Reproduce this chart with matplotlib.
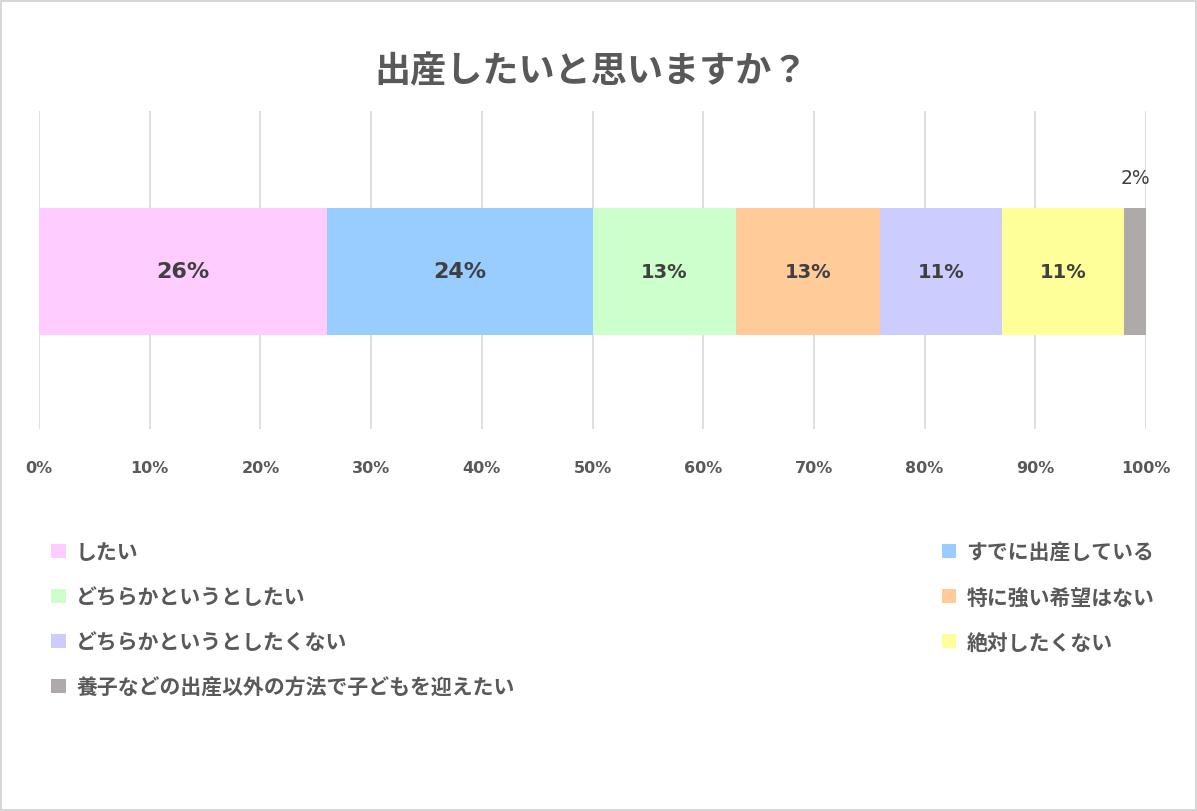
import numpy as np
import matplotlib.pyplot as plt
from matplotlib.patches import Rectangle

plt.rcParams['font.family'] = 'Noto Sans CJK JP'

categories = ['したい', 'すでに出産している', 'どちらかというとしたい', '特に強い希望はない',
              'どちらかというとしたくない', '絶対したくない', '養子などの出産以外の方法で子どもを迎えたい']
values = [26, 24, 13, 13, 11, 11, 2]
colors = ['#FFCCFF', '#99CCFF', '#CCFFCC', '#FFCC99', '#CCCCFF', '#FFFF99', '#AEAAAA']
ticks = np.arange(0, 101, 10)

fig = plt.figure(figsize=(11.97, 8.12), dpi=100)
fig.patches.append(Rectangle((0.001, 0.001), 0.998, 0.997, transform=fig.transFigure,
                             fill=False, edgecolor='#D0D0D0', linewidth=1.2))
ax = fig.add_axes([0.0326, 0.470, 0.9248, 0.392])

left = 0
for cat, v, c in zip(categories, values, colors):
    ax.barh(0.497, v, left=left, height=0.40, color=c, label=cat, zorder=3)
    if v >= 5:
        size = 16 if v >= 20 else 14
        ax.text(left + v / 2, 0.497, f'{v}%', ha='center', va='center', fontweight='bold',
                fontsize=size, color='#404040', fontfamily='DejaVu Sans', zorder=4)
    else:
        ax.text(left + v / 2, 0.79, f'{v}%', ha='center', va='center',
                fontsize=13.5, color='#404040', fontfamily='DejaVu Sans', zorder=4)
    left += v

ax.set_xlim(0, 100)
ax.set_ylim(0, 1)
ax.set_xticks(ticks)
ax.set_xticklabels([f'{t}%' for t in ticks], fontsize=11.5, fontweight='bold',
                   color='#595959', fontfamily='DejaVu Sans')
ax.tick_params(axis='x', length=0, pad=22)
ax.set_yticks([])
ax.grid(axis='x', color='#D9D9D9', linewidth=1.2, zorder=0)
for s in ax.spines.values():
    s.set_visible(False)

fig.text(0.494, 0.912, '出産したいと思いますか？', ha='center', va='center',
         fontsize=26, fontweight='bold', color='#595959')

# legend fills column by column, so reorder to read row by row
handles, labels = ax.get_legend_handles_labels()
order = [0, 2, 4, 6, 1, 3, 5]
fig.legend([handles[i] for i in order], [labels[i] for i in order], ncol=2,
           loc='upper left', bbox_to_anchor=(0.027, 0.355),
           frameon=False, labelcolor='#595959', handlelength=0.7,
           handleheight=0.7, handletextpad=0.5, columnspacing=20.5, labelspacing=1.15,
           prop={'weight': 'bold', 'size': 15})

fig.savefig('out.png', dpi=100)
